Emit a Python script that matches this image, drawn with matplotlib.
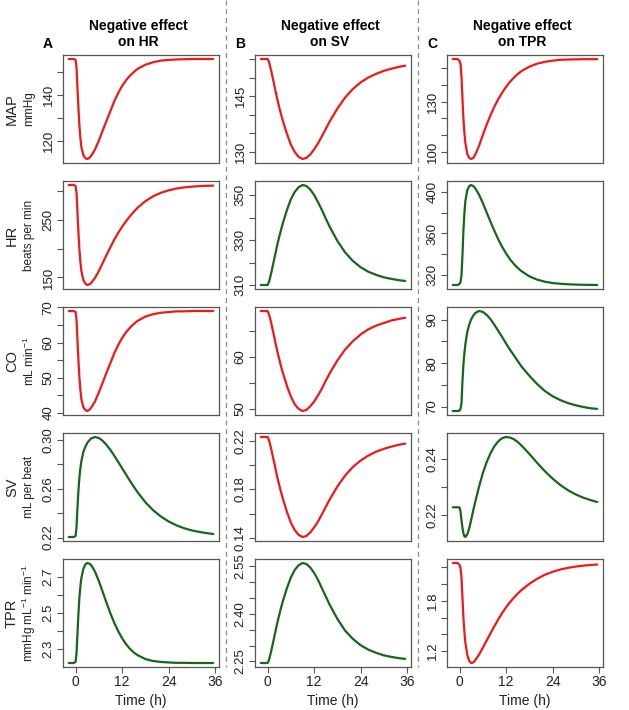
import matplotlib.pyplot as plt

plt.rcParams['font.family'] = ['Liberation Sans', 'DejaVu Sans']
plt.rcParams['mathtext.fontset'] = 'custom'
plt.rcParams['mathtext.rm'] = 'Liberation Sans'
plt.rcParams['mathtext.it'] = 'Liberation Sans'

RED = '#f01818'
GREEN = '#17661a'

# time grid (h)
time_h = [-1.75, -0.5, 0, 0.25, 0.5, 0.75, 1, 1.25, 1.5, 2, 2.5, 3, 3.5, 4, 5, 6, 7,
          8, 9, 10, 11, 12, 13, 14, 15, 16, 18, 20, 22, 24, 26, 28, 30, 32, 34, 35.5]

# column A: negative effect on HR
map_a = [155.5, 155.5, 155.1, 151.6, 142.5, 133.8, 126.4, 121.1, 117.2, 113.7, 112.4,
         112.0, 112.4, 113.3, 116.1, 120.0, 124.4, 128.7, 132.9, 137.2, 140.7, 143.8,
         146.2, 148.2, 149.8, 151.2, 153.0, 154.1, 154.8, 155.1, 155.3, 155.4, 155.5,
         155.5, 155.5, 155.5]
hr_a = [310, 310, 308.3, 296.2, 261.6, 227.0, 197.6, 176.8, 161.2, 145.7, 139.6,
        137.0, 137.9, 140.5, 149.1, 161.2, 175.1, 188.9, 202.7, 215.7, 227.3, 237.7,
        247.2, 255.9, 263.6, 270.6, 282.0, 290.5, 296.5, 300.8, 303.8, 305.9, 307.2,
        308.1, 308.6, 309.0]
co_a = [69, 69, 68.7, 66.4, 60.5, 54.8, 49.9, 46.5, 43.9, 41.6, 40.8, 40.5, 40.8,
        41.4, 43.2, 45.8, 48.6, 51.5, 54.2, 57.0, 59.3, 61.3, 62.9, 64.2, 65.3, 66.2,
        67.4, 68.1, 68.5, 68.7, 68.9, 68.9, 69, 69, 69, 69]
sv_a = [0.2205, 0.2205, 0.2213, 0.2287, 0.2451, 0.2590, 0.2697, 0.2771, 0.2828,
        0.2902, 0.2943, 0.2976, 0.2996, 0.3013, 0.3025, 0.3017, 0.2994, 0.2959,
        0.2918, 0.2871, 0.2820, 0.2769, 0.2718, 0.2667, 0.2618, 0.2572, 0.2490,
        0.2425, 0.2373, 0.2332, 0.2301, 0.2277, 0.2259, 0.2246, 0.2236, 0.2230]
tpr_a = [2.22, 2.22, 2.226, 2.276, 2.388, 2.50, 2.590, 2.651, 2.696, 2.746, 2.772,
         2.78, 2.777, 2.769, 2.732, 2.679, 2.618, 2.556, 2.497, 2.444, 2.398, 2.359,
         2.326, 2.300, 2.279, 2.264, 2.242, 2.231, 2.226, 2.223, 2.221, 2.221, 2.22,
         2.22, 2.22, 2.22]

# column B: negative effect on SV
map_b = [155, 155, 155, 154.5, 153.7, 152.6, 151.5, 150.3, 149.1, 146.6, 144.2,
         142.0, 140.0, 138.1, 134.8, 131.9, 129.9, 128.6, 128.0, 128.3, 129.2, 130.6,
         132.2, 134.1, 136.1, 138.1, 141.6, 144.6, 146.9, 148.7, 150.0, 151.0, 151.8,
         152.4, 152.9, 153.2]
hr_b = [310, 310, 310, 310.9, 312.2, 314.0, 315.8, 317.8, 319.8, 323.8, 327.8,
        331.4, 334.7, 337.8, 343.4, 348.1, 351.4, 353.5, 354.5, 354.1, 352.5, 350.1,
        346.9, 343.4, 339.6, 336.0, 329.6, 324.5, 320.7, 317.9, 315.9, 314.5, 313.4,
        312.7, 312.1, 311.8]
co_b = [68.8, 68.8, 68.8, 68.4, 67.8, 67.1, 66.3, 65.4, 64.6, 62.8, 61.1, 59.6,
        58.1, 56.8, 54.4, 52.4, 50.9, 50.0, 49.6, 49.8, 50.5, 51.4, 52.6, 53.9, 55.4,
        56.8, 59.3, 61.4, 63.0, 64.3, 65.3, 66.0, 66.5, 67.0, 67.3, 67.5]
sv_b = [0.2230, 0.2230, 0.2230, 0.2214, 0.2189, 0.2156, 0.2123, 0.2087, 0.2050,
        0.1976, 0.1902, 0.1836, 0.1775, 0.1718, 0.1615, 0.1529, 0.1467, 0.1428,
        0.1410, 0.1418, 0.1447, 0.1488, 0.1537, 0.1595, 0.1656, 0.1716, 0.1824,
        0.1914, 0.1984, 0.2037, 0.2078, 0.2110, 0.2133, 0.2152, 0.2167, 0.2176]
tpr_b = [2.245, 2.245, 2.245, 2.251, 2.261, 2.273, 2.286, 2.300, 2.314, 2.343,
         2.371, 2.396, 2.420, 2.442, 2.481, 2.514, 2.538, 2.553, 2.560, 2.557, 2.546,
         2.529, 2.507, 2.481, 2.455, 2.429, 2.384, 2.347, 2.321, 2.301, 2.287, 2.277,
         2.269, 2.264, 2.260, 2.258]

# column C: negative effect on TPR
map_c = [155.5, 155.5, 154.3, 152.5, 144.7, 131.5, 119.5, 111.1, 105.1, 98.5, 96.1,
         95.5, 96.1, 97.9, 103.3, 109.9, 116.2, 121.9, 127.0, 131.5, 135.4, 138.8,
         141.8, 144.3, 146.5, 148.3, 150.9, 152.7, 153.8, 154.5, 155.0, 155.2, 155.3,
         155.4, 155.4, 155.4]
hr_c = [310, 310, 311.0, 312.9, 319.7, 339.1, 363.4, 379.8, 391.5, 402.2, 406.0,
        407.0, 406.0, 404.1, 397.8, 389.5, 380.3, 371.1, 362.4, 354.1, 346.9, 340.6,
        335.0, 330.4, 326.5, 323.3, 318.4, 315.2, 313.2, 311.9, 311.2, 310.7, 310.4,
        310.2, 310.1, 310.0]
co_c = [69, 69, 69.1, 69.5, 70.8, 75.9, 79.8, 82.3, 84.4, 87.2, 88.9, 90.1, 90.9,
        91.5, 92.0, 91.8, 91.1, 90.1, 88.8, 87.4, 86.0, 84.5, 83.1, 81.8, 80.5, 79.2,
        77.1, 75.2, 73.6, 72.4, 71.5, 70.8, 70.3, 69.9, 69.6, 69.5]
sv_c = [0.2227, 0.2227, 0.2226, 0.2212, 0.2180, 0.2152, 0.2133, 0.2123, 0.2120,
        0.2130, 0.2152, 0.2182, 0.2214, 0.2244, 0.2300, 0.2350, 0.2390, 0.2422,
        0.2447, 0.2465, 0.2476, 0.2480, 0.2478, 0.2472, 0.2462, 0.2449, 0.2419,
        0.2387, 0.2357, 0.2330, 0.2307, 0.2288, 0.2273, 0.2261, 0.2252, 0.2246]
tpr_c = [2.25, 2.25, 2.226, 2.191, 2.072, 1.834, 1.596, 1.429, 1.298, 1.155, 1.084,
         1.06, 1.066, 1.090, 1.158, 1.241, 1.328, 1.415, 1.500, 1.581, 1.655, 1.723,
         1.784, 1.837, 1.886, 1.929, 2.002, 2.062, 2.110, 2.145, 2.173, 2.193, 2.208,
         2.219, 2.227, 2.232]

col_titles = ['Negative effect\non HR', 'Negative effect\non SV', 'Negative effect\non TPR']
col_letters = ['A', 'B', 'C']
row_names = ['MAP', 'HR', 'CO', 'SV', 'TPR']
row_units = ['mmHg', 'beats per min', r'mL min$^{-1}$', 'mL per beat',
             r'mmHg mL$^{-1}$ min$^{-1}$']
x_ticks = [0, 12, 24, 36]

# [row][col] -> (values, colour, tick positions, tick labels)
panels = [
    [(map_a, RED, [120, 130, 140, 150], ['120', '', '140', '']),
     (map_b, RED, [130, 135, 140, 145, 150, 155], ['130', '', '', '145', '', '']),
     (map_c, RED, [100, 110, 120, 130, 140, 150], ['100', '', '', '130', '', ''])],
    [(hr_a, RED, [150, 200, 250, 300], ['150', '', '250', '']),
     (hr_b, GREEN, [310, 320, 330, 340, 350], ['310', '', '330', '', '350']),
     (hr_c, GREEN, [320, 340, 360, 380, 400], ['320', '', '360', '', '400'])],
    [(co_a, RED, [40, 45, 50, 55, 60, 65, 70], ['40', '', '50', '', '60', '', '70']),
     (co_b, RED, [50, 55, 60, 65], ['50', '', '60', '']),
     (co_c, GREEN, [70, 75, 80, 85, 90], ['70', '', '80', '', '90'])],
    [(sv_a, GREEN, [0.22, 0.24, 0.26, 0.28, 0.30], ['0.22', '', '0.26', '', '0.30']),
     (sv_b, RED, [0.14, 0.16, 0.18, 0.20, 0.22], ['0.14', '', '0.18', '', '0.22']),
     (sv_c, GREEN, [0.22, 0.23, 0.24], ['0.22', '', '0.24'])],
    [(tpr_a, GREEN, [2.3, 2.4, 2.5, 2.6, 2.7], ['2.3', '', '2.5', '', '2.7']),
     (tpr_b, GREEN, [2.25, 2.30, 2.35, 2.40, 2.45, 2.50, 2.55],
      ['2.25', '', '', '2.40', '', '', '2.55']),
     (tpr_c, RED, [1.2, 1.4, 1.6, 1.8, 2.0, 2.2], ['1.2', '', '', '1.8', '', ''])],
]

W, H = 629, 710
fig = plt.figure(figsize=(W / 100, H / 100), dpi=100)

col_left = [63, 255, 447]
row_top = [55, 181, 307, 433, 559]
pw, ph = 156, 108
frame = '#555555'

for r in range(5):
    for c in range(3):
        vals, color, yt, ytl = panels[r][c]
        ax = fig.add_axes([col_left[c] / W, 1 - (row_top[r] + ph) / H, pw / W, ph / H])
        ax.plot(time_h, vals, color=color, lw=1.6, solid_capstyle='round',
                solid_joinstyle='round')
        ax.margins(x=0.04, y=0.04)
        ax.set_yticks(yt, labels=ytl)
        ax.tick_params(axis='y', labelrotation=90, length=4, width=0.8, color=frame,
                       pad=2, labelsize=9.5, labelcolor='#222222')
        for lab in ax.get_yticklabels():
            lab.set_verticalalignment('center')
        if r == 4:
            ax.set_xticks(x_ticks, labels=[str(v) for v in x_ticks])
            ax.tick_params(axis='x', length=4, width=0.8, color=frame, pad=2,
                           labelsize=10, labelcolor='#222222')
            ax.set_xlabel('Time (h)', fontsize=10, labelpad=3, color='#222222')
        else:
            ax.set_xticks([])
        for s in ax.spines.values():
            s.set_color(frame)
            s.set_linewidth(0.9)

# column titles and panel letters
for c in range(3):
    cx = (col_left[c] + pw / 2 - 3) / W
    fig.text(cx, 1 - 34 / H, col_titles[c], ha='center', va='center',
             fontsize=10, fontweight='bold', linespacing=1.25)
    fig.text((col_left[c] - 15) / W, 1 - 44 / H, col_letters[c], ha='center',
             va='center', fontsize=10, fontweight='bold')

# row labels
for r in range(5):
    cy = 1 - (row_top[r] + ph / 2) / H
    fig.text(12 / W, cy, row_names[r], rotation=90, ha='center', va='center',
             fontsize=10.5, color='#222222')
    fig.text(29 / W, cy, row_units[r], rotation=90, ha='center', va='center',
             fontsize=8.5, color='#222222')

# dashed separators between columns
for x in [226, 418]:
    fig.add_artist(plt.Line2D([x / W, x / W], [1, 1 - 667 / H], color='#8a8a8a',
                              lw=0.9, ls=(0, (4, 3))))

fig.savefig('out.png', dpi=100)
